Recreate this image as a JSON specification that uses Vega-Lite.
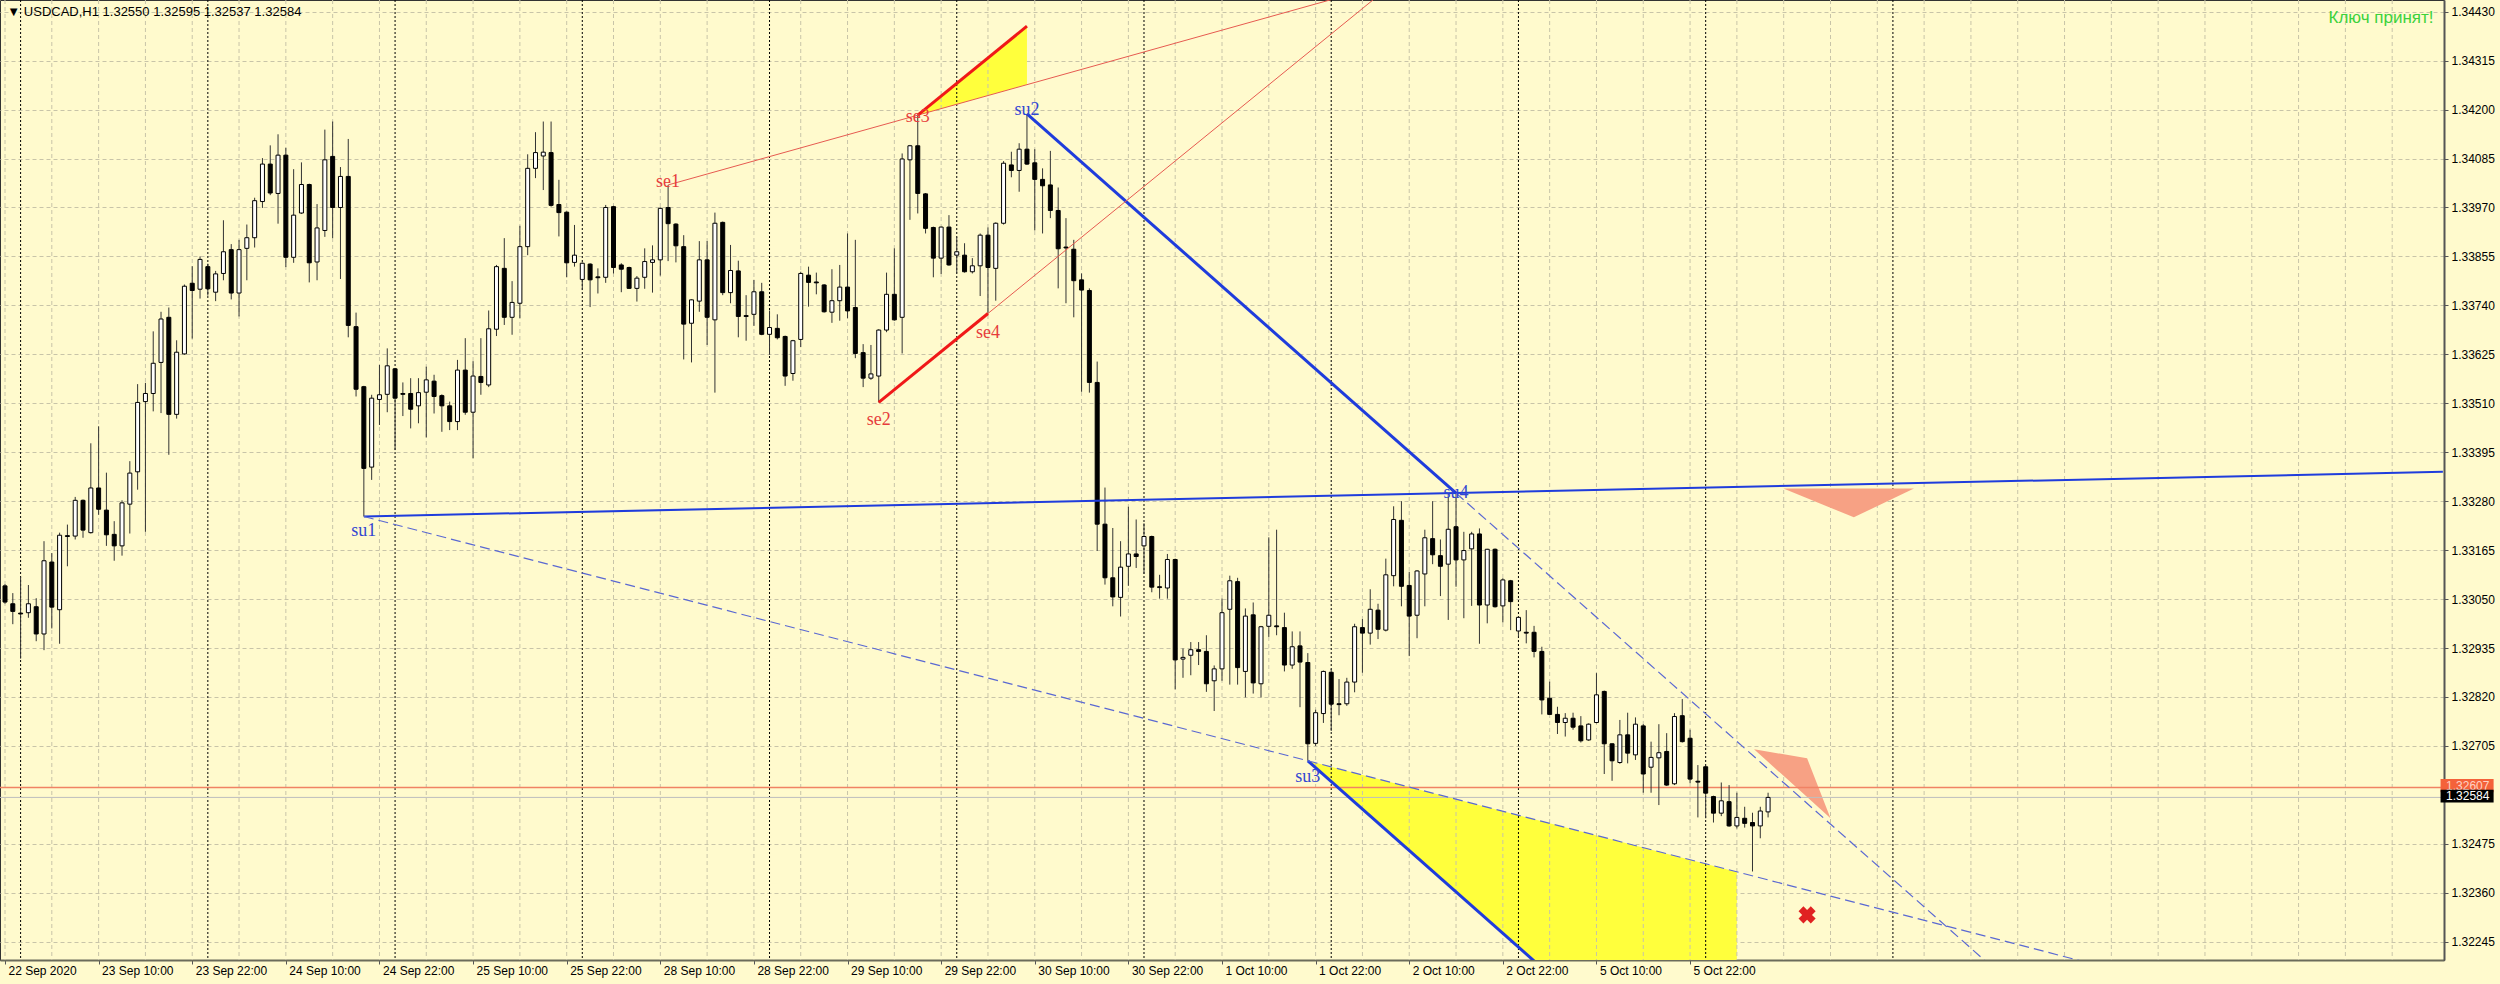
{
  "$schema": "https://vega.github.io/schema/vega-lite/v6.json",
  "width": 2444,
  "height": 960,
  "autosize": {"type": "none"},
  "padding": {"left": 0, "top": 0, "right": 56, "bottom": 24},
  "background": "#FFFACD",
  "config": {
    "view": {"stroke": "#333333", "strokeWidth": 1, "fill": "#FFFACD"},
    "axis": {"labelFont": "Liberation Sans", "labelFontSize": 12, "labelColor": "#000000", "titleFont": "Liberation Sans"}
  },
  "datasets": {
    "bars": [
      {"i":0,"o":1.33081,"h":1.33085,"l":1.33039,"c":1.33043},
      {"i":1,"o":1.33039,"h":1.33064,"l":1.32991,"c":1.33021},
      {"i":2,"o":1.33017,"h":1.33102,"l":1.32910,"c":1.33015},
      {"i":3,"o":1.33018,"h":1.33083,"l":1.33006,"c":1.33039},
      {"i":4,"o":1.33032,"h":1.33052,"l":1.32951,"c":1.32968},
      {"i":5,"o":1.32968,"h":1.33186,"l":1.32930,"c":1.33140},
      {"i":6,"o":1.33137,"h":1.33158,"l":1.32981,"c":1.33031},
      {"i":7,"o":1.33025,"h":1.33206,"l":1.32945,"c":1.33200},
      {"i":8,"o":1.33199,"h":1.33225,"l":1.33127,"c":1.33197},
      {"i":9,"o":1.33198,"h":1.33290,"l":1.33190,"c":1.33282},
      {"i":10,"o":1.33282,"h":1.33284,"l":1.33194,"c":1.33212},
      {"i":11,"o":1.33206,"h":1.33416,"l":1.33204,"c":1.33311},
      {"i":12,"o":1.33311,"h":1.33456,"l":1.33248,"c":1.33261},
      {"i":13,"o":1.33259,"h":1.33347,"l":1.33175,"c":1.33201},
      {"i":14,"o":1.33202,"h":1.33233,"l":1.33140,"c":1.33175},
      {"i":15,"o":1.33175,"h":1.33282,"l":1.33152,"c":1.33276},
      {"i":16,"o":1.33273,"h":1.33374,"l":1.33204,"c":1.33346},
      {"i":17,"o":1.33349,"h":1.33555,"l":1.33307,"c":1.33512},
      {"i":18,"o":1.33514,"h":1.33558,"l":1.33208,"c":1.33533},
      {"i":19,"o":1.33533,"h":1.33679,"l":1.33491,"c":1.33604},
      {"i":20,"o":1.33606,"h":1.33725,"l":1.33487,"c":1.33708},
      {"i":21,"o":1.33712,"h":1.33735,"l":1.33389,"c":1.33484},
      {"i":22,"o":1.33484,"h":1.33658,"l":1.33474,"c":1.33630},
      {"i":23,"o":1.33626,"h":1.33789,"l":1.33624,"c":1.33785},
      {"i":24,"o":1.33792,"h":1.33832,"l":1.33662,"c":1.33775},
      {"i":25,"o":1.33778,"h":1.33855,"l":1.33756,"c":1.33848},
      {"i":26,"o":1.33831,"h":1.33838,"l":1.33763,"c":1.33779},
      {"i":27,"o":1.33771,"h":1.33821,"l":1.33750,"c":1.33814},
      {"i":28,"o":1.33815,"h":1.33940,"l":1.33799,"c":1.33866},
      {"i":29,"o":1.33871,"h":1.33884,"l":1.33754,"c":1.33769},
      {"i":30,"o":1.33769,"h":1.33894,"l":1.33714,"c":1.33871},
      {"i":31,"o":1.33874,"h":1.33930,"l":1.33799,"c":1.33899},
      {"i":32,"o":1.33899,"h":1.33993,"l":1.33876,"c":1.33986},
      {"i":33,"o":1.33984,"h":1.34086,"l":1.33969,"c":1.34072},
      {"i":34,"o":1.34072,"h":1.34116,"l":1.33999,"c":1.34004},
      {"i":35,"o":1.34003,"h":1.34142,"l":1.33932,"c":1.34093},
      {"i":36,"o":1.34093,"h":1.34110,"l":1.33830,"c":1.33853},
      {"i":37,"o":1.33853,"h":1.34060,"l":1.33840,"c":1.33952},
      {"i":38,"o":1.33957,"h":1.34076,"l":1.33955,"c":1.34024},
      {"i":39,"o":1.34024,"h":1.34026,"l":1.33794,"c":1.33840},
      {"i":40,"o":1.33842,"h":1.33978,"l":1.33799,"c":1.33922},
      {"i":41,"o":1.33916,"h":1.34153,"l":1.33901,"c":1.34082},
      {"i":42,"o":1.34090,"h":1.34172,"l":1.33898,"c":1.33970},
      {"i":43,"o":1.33970,"h":1.34065,"l":1.33802,"c":1.34043},
      {"i":44,"o":1.34043,"h":1.34131,"l":1.33665,"c":1.33693},
      {"i":45,"o":1.33690,"h":1.33723,"l":1.33526,"c":1.33543},
      {"i":46,"o":1.33549,"h":1.33551,"l":1.33244,"c":1.33357},
      {"i":47,"o":1.33360,"h":1.33530,"l":1.33330,"c":1.33522},
      {"i":48,"o":1.33519,"h":1.33600,"l":1.33459,"c":1.33530},
      {"i":49,"o":1.33531,"h":1.33639,"l":1.33489,"c":1.33598},
      {"i":50,"o":1.33591,"h":1.33593,"l":1.33400,"c":1.33522},
      {"i":51,"o":1.33533,"h":1.33559,"l":1.33480,"c":1.33531},
      {"i":52,"o":1.33533,"h":1.33569,"l":1.33451,"c":1.33496},
      {"i":53,"o":1.33504,"h":1.33569,"l":1.33463,"c":1.33535},
      {"i":54,"o":1.33536,"h":1.33596,"l":1.33430,"c":1.33565},
      {"i":55,"o":1.33562,"h":1.33577,"l":1.33486,"c":1.33526},
      {"i":56,"o":1.33528,"h":1.33531,"l":1.33443,"c":1.33504},
      {"i":57,"o":1.33504,"h":1.33514,"l":1.33447,"c":1.33467},
      {"i":58,"o":1.33467,"h":1.33612,"l":1.33447,"c":1.33588},
      {"i":59,"o":1.33588,"h":1.33663,"l":1.33483,"c":1.33489},
      {"i":60,"o":1.33489,"h":1.33609,"l":1.33381,"c":1.33574},
      {"i":61,"o":1.33573,"h":1.33663,"l":1.33530,"c":1.33559},
      {"i":62,"o":1.33553,"h":1.33728,"l":1.33548,"c":1.33685},
      {"i":63,"o":1.33684,"h":1.33835,"l":1.33668,"c":1.33831},
      {"i":64,"o":1.33827,"h":1.33898,"l":1.33694,"c":1.33712},
      {"i":65,"o":1.33712,"h":1.33797,"l":1.33671,"c":1.33747},
      {"i":66,"o":1.33745,"h":1.33927,"l":1.33710,"c":1.33878},
      {"i":67,"o":1.33878,"h":1.34095,"l":1.33858,"c":1.34062},
      {"i":68,"o":1.34062,"h":1.34147,"l":1.34039,"c":1.34099},
      {"i":69,"o":1.34091,"h":1.34172,"l":1.34011,"c":1.34100},
      {"i":70,"o":1.34099,"h":1.34172,"l":1.33972,"c":1.33975},
      {"i":71,"o":1.33977,"h":1.34035,"l":1.33902,"c":1.33958},
      {"i":72,"o":1.33959,"h":1.33961,"l":1.33806,"c":1.33840},
      {"i":73,"o":1.33841,"h":1.33929,"l":1.33831,"c":1.33858},
      {"i":74,"o":1.33801,"h":1.33841,"l":1.33776,"c":1.33839},
      {"i":75,"o":1.33837,"h":1.33839,"l":1.33736,"c":1.33800},
      {"i":76,"o":1.33807,"h":1.33827,"l":1.33768,"c":1.33805},
      {"i":77,"o":1.33806,"h":1.33976,"l":1.33793,"c":1.33970},
      {"i":78,"o":1.33972,"h":1.33974,"l":1.33815,"c":1.33829},
      {"i":79,"o":1.33835,"h":1.33839,"l":1.33771,"c":1.33825},
      {"i":80,"o":1.33829,"h":1.33831,"l":1.33779,"c":1.33780},
      {"i":81,"o":1.33780,"h":1.33809,"l":1.33749,"c":1.33804},
      {"i":82,"o":1.33806,"h":1.33874,"l":1.33779,"c":1.33843},
      {"i":83,"o":1.33841,"h":1.33881,"l":1.33770,"c":1.33847},
      {"i":84,"o":1.33847,"h":1.33970,"l":1.33810,"c":1.33968},
      {"i":85,"o":1.33970,"h":1.34023,"l":1.33844,"c":1.33932},
      {"i":86,"o":1.33931,"h":1.33933,"l":1.33841,"c":1.33880},
      {"i":87,"o":1.33878,"h":1.33905,"l":1.33613,"c":1.33696},
      {"i":88,"o":1.33698,"h":1.33754,"l":1.33606,"c":1.33753},
      {"i":89,"o":1.33750,"h":1.33891,"l":1.33725,"c":1.33847},
      {"i":90,"o":1.33847,"h":1.33891,"l":1.33647,"c":1.33712},
      {"i":91,"o":1.33706,"h":1.33958,"l":1.33535,"c":1.33933},
      {"i":92,"o":1.33935,"h":1.33937,"l":1.33764,"c":1.33770},
      {"i":93,"o":1.33770,"h":1.33882,"l":1.33745,"c":1.33822},
      {"i":94,"o":1.33821,"h":1.33845,"l":1.33665,"c":1.33714},
      {"i":95,"o":1.33716,"h":1.33764,"l":1.33657,"c":1.33714},
      {"i":96,"o":1.33719,"h":1.33800,"l":1.33692,"c":1.33772},
      {"i":97,"o":1.33772,"h":1.33793,"l":1.33670,"c":1.33672},
      {"i":98,"o":1.33672,"h":1.33728,"l":1.33624,"c":1.33688},
      {"i":99,"o":1.33686,"h":1.33719,"l":1.33660,"c":1.33664},
      {"i":100,"o":1.33667,"h":1.33669,"l":1.33551,"c":1.33574},
      {"i":101,"o":1.33580,"h":1.33659,"l":1.33563,"c":1.33657},
      {"i":102,"o":1.33660,"h":1.33819,"l":1.33642,"c":1.33815},
      {"i":103,"o":1.33811,"h":1.33831,"l":1.33737,"c":1.33794},
      {"i":104,"o":1.33795,"h":1.33817,"l":1.33766,"c":1.33793},
      {"i":105,"o":1.33788,"h":1.33790,"l":1.33723,"c":1.33725},
      {"i":106,"o":1.33724,"h":1.33825,"l":1.33699,"c":1.33751},
      {"i":107,"o":1.33751,"h":1.33835,"l":1.33704,"c":1.33783},
      {"i":108,"o":1.33783,"h":1.33909,"l":1.33710,"c":1.33727},
      {"i":109,"o":1.33735,"h":1.33894,"l":1.33616,"c":1.33627},
      {"i":110,"o":1.33629,"h":1.33649,"l":1.33548,"c":1.33569},
      {"i":111,"o":1.33569,"h":1.33647,"l":1.33565,"c":1.33579},
      {"i":112,"o":1.33574,"h":1.33684,"l":1.33512,"c":1.33682},
      {"i":113,"o":1.33682,"h":1.33817,"l":1.33677,"c":1.33766},
      {"i":114,"o":1.33766,"h":1.33874,"l":1.33704,"c":1.33706},
      {"i":115,"o":1.33712,"h":1.34097,"l":1.33627,"c":1.34084},
      {"i":116,"o":1.34082,"h":1.34117,"l":1.33941,"c":1.34115},
      {"i":117,"o":1.34115,"h":1.34187,"l":1.33956,"c":1.34003},
      {"i":118,"o":1.34002,"h":1.34004,"l":1.33909,"c":1.33921},
      {"i":119,"o":1.33923,"h":1.33925,"l":1.33806,"c":1.33851},
      {"i":120,"o":1.33851,"h":1.33925,"l":1.33814,"c":1.33924},
      {"i":121,"o":1.33924,"h":1.33952,"l":1.33833,"c":1.33835},
      {"i":122,"o":1.33858,"h":1.33901,"l":1.33815,"c":1.33866},
      {"i":123,"o":1.33858,"h":1.33886,"l":1.33817,"c":1.33819},
      {"i":124,"o":1.33819,"h":1.33851,"l":1.33815,"c":1.33833},
      {"i":125,"o":1.33833,"h":1.33909,"l":1.33762,"c":1.33905},
      {"i":126,"o":1.33905,"h":1.33923,"l":1.33721,"c":1.33829},
      {"i":127,"o":1.33827,"h":1.33935,"l":1.33751,"c":1.33933},
      {"i":128,"o":1.33933,"h":1.34079,"l":1.33930,"c":1.34074},
      {"i":129,"o":1.34070,"h":1.34101,"l":1.34041,"c":1.34057},
      {"i":130,"o":1.34057,"h":1.34121,"l":1.34007,"c":1.34107},
      {"i":131,"o":1.34107,"h":1.34190,"l":1.34070,"c":1.34072},
      {"i":132,"o":1.34075,"h":1.34107,"l":1.33916,"c":1.34036},
      {"i":133,"o":1.34036,"h":1.34062,"l":1.33909,"c":1.34021},
      {"i":134,"o":1.34023,"h":1.34103,"l":1.33945,"c":1.33963},
      {"i":135,"o":1.33963,"h":1.34017,"l":1.33780,"c":1.33873},
      {"i":136,"o":1.33877,"h":1.33945,"l":1.33745,"c":1.33875},
      {"i":137,"o":1.33872,"h":1.33894,"l":1.33712,"c":1.33798},
      {"i":138,"o":1.33800,"h":1.33815,"l":1.33537,"c":1.33776},
      {"i":139,"o":1.33775,"h":1.33780,"l":1.33535,"c":1.33559},
      {"i":140,"o":1.33559,"h":1.33608,"l":1.33163,"c":1.33226},
      {"i":141,"o":1.33226,"h":1.33312,"l":1.33084,"c":1.33100},
      {"i":142,"o":1.33100,"h":1.33217,"l":1.33033,"c":1.33055},
      {"i":143,"o":1.33054,"h":1.33186,"l":1.33009,"c":1.33125},
      {"i":144,"o":1.33127,"h":1.33267,"l":1.33081,"c":1.33156},
      {"i":145,"o":1.33156,"h":1.33237,"l":1.33123,"c":1.33150},
      {"i":146,"o":1.33175,"h":1.33228,"l":1.33109,"c":1.33197},
      {"i":147,"o":1.33197,"h":1.33199,"l":1.33066,"c":1.33078},
      {"i":148,"o":1.33079,"h":1.33107,"l":1.33051,"c":1.33077},
      {"i":149,"o":1.33076,"h":1.33156,"l":1.33051,"c":1.33143},
      {"i":150,"o":1.33143,"h":1.33145,"l":1.32838,"c":1.32907},
      {"i":151,"o":1.32909,"h":1.32934,"l":1.32865,"c":1.32913},
      {"i":152,"o":1.32918,"h":1.32949,"l":1.32871,"c":1.32931},
      {"i":153,"o":1.32931,"h":1.32949,"l":1.32895,"c":1.32927},
      {"i":154,"o":1.32927,"h":1.32965,"l":1.32832,"c":1.32851},
      {"i":155,"o":1.32858,"h":1.32894,"l":1.32787,"c":1.32886},
      {"i":156,"o":1.32886,"h":1.33051,"l":1.32858,"c":1.33018},
      {"i":157,"o":1.33026,"h":1.33105,"l":1.32849,"c":1.33093},
      {"i":158,"o":1.33091,"h":1.33100,"l":1.32849,"c":1.32889},
      {"i":159,"o":1.32880,"h":1.33028,"l":1.32819,"c":1.33010},
      {"i":160,"o":1.33013,"h":1.33042,"l":1.32828,"c":1.32853},
      {"i":161,"o":1.32851,"h":1.32987,"l":1.32819,"c":1.32985},
      {"i":162,"o":1.32986,"h":1.33195,"l":1.32961,"c":1.33012},
      {"i":163,"o":1.32987,"h":1.33213,"l":1.32965,"c":1.32985},
      {"i":164,"o":1.32983,"h":1.33018,"l":1.32880,"c":1.32895},
      {"i":165,"o":1.32895,"h":1.32974,"l":1.32886,"c":1.32938},
      {"i":166,"o":1.32940,"h":1.32974,"l":1.32796,"c":1.32902},
      {"i":167,"o":1.32901,"h":1.32923,"l":1.32670,"c":1.32710},
      {"i":168,"o":1.32711,"h":1.32790,"l":1.32705,"c":1.32783},
      {"i":169,"o":1.32781,"h":1.32882,"l":1.32759,"c":1.32880},
      {"i":170,"o":1.32878,"h":1.32886,"l":1.32740,"c":1.32803},
      {"i":171,"o":1.32804,"h":1.32862,"l":1.32777,"c":1.32802},
      {"i":172,"o":1.32804,"h":1.32865,"l":1.32799,"c":1.32855},
      {"i":173,"o":1.32855,"h":1.32992,"l":1.32831,"c":1.32985},
      {"i":174,"o":1.32983,"h":1.33003,"l":1.32877,"c":1.32970},
      {"i":175,"o":1.32970,"h":1.33073,"l":1.32943,"c":1.33026},
      {"i":176,"o":1.33024,"h":1.33039,"l":1.32956,"c":1.32979},
      {"i":177,"o":1.32977,"h":1.33145,"l":1.32974,"c":1.33107},
      {"i":178,"o":1.33105,"h":1.33268,"l":1.33080,"c":1.33237},
      {"i":179,"o":1.33235,"h":1.33280,"l":1.33033,"c":1.33080},
      {"i":180,"o":1.33082,"h":1.33114,"l":1.32916,"c":1.33010},
      {"i":181,"o":1.33012,"h":1.33118,"l":1.32958,"c":1.33116},
      {"i":182,"o":1.33109,"h":1.33213,"l":1.33033,"c":1.33194},
      {"i":183,"o":1.33192,"h":1.33280,"l":1.33132,"c":1.33154},
      {"i":184,"o":1.33152,"h":1.33190,"l":1.33057,"c":1.33127},
      {"i":185,"o":1.33132,"h":1.33294,"l":1.33001,"c":1.33214},
      {"i":186,"o":1.33220,"h":1.33299,"l":1.33079,"c":1.33142},
      {"i":187,"o":1.33142,"h":1.33208,"l":1.33005,"c":1.33164},
      {"i":188,"o":1.33168,"h":1.33208,"l":1.33034,"c":1.33203},
      {"i":189,"o":1.33203,"h":1.33216,"l":1.32945,"c":1.33036},
      {"i":190,"o":1.33036,"h":1.33168,"l":1.32993,"c":1.33167},
      {"i":191,"o":1.33167,"h":1.33169,"l":1.33030,"c":1.33032},
      {"i":192,"o":1.33034,"h":1.33099,"l":1.32995,"c":1.33095},
      {"i":193,"o":1.33093,"h":1.33095,"l":1.32977,"c":1.33044},
      {"i":194,"o":1.32975,"h":1.33009,"l":1.32962,"c":1.33007},
      {"i":195,"o":1.32972,"h":1.33024,"l":1.32946,"c":1.32970},
      {"i":196,"o":1.32972,"h":1.32987,"l":1.32913,"c":1.32927},
      {"i":197,"o":1.32927,"h":1.32938,"l":1.32779,"c":1.32813},
      {"i":198,"o":1.32817,"h":1.32856,"l":1.32778,"c":1.32779},
      {"i":199,"o":1.32779,"h":1.32797,"l":1.32733,"c":1.32760},
      {"i":200,"o":1.32760,"h":1.32782,"l":1.32727,"c":1.32770},
      {"i":201,"o":1.32770,"h":1.32783,"l":1.32743,"c":1.32749},
      {"i":202,"o":1.32752,"h":1.32775,"l":1.32713,"c":1.32717},
      {"i":203,"o":1.32719,"h":1.32758,"l":1.32717,"c":1.32756},
      {"i":204,"o":1.32760,"h":1.32876,"l":1.32758,"c":1.32825},
      {"i":205,"o":1.32833,"h":1.32835,"l":1.32639,"c":1.32710},
      {"i":206,"o":1.32710,"h":1.32711,"l":1.32623,"c":1.32670},
      {"i":207,"o":1.32666,"h":1.32766,"l":1.32663,"c":1.32731},
      {"i":208,"o":1.32731,"h":1.32783,"l":1.32664,"c":1.32688},
      {"i":209,"o":1.32684,"h":1.32772,"l":1.32672,"c":1.32756},
      {"i":210,"o":1.32752,"h":1.32756,"l":1.32595,"c":1.32639},
      {"i":211,"o":1.32655,"h":1.32715,"l":1.32595,"c":1.32678},
      {"i":212,"o":1.32677,"h":1.32756,"l":1.32566,"c":1.32689},
      {"i":213,"o":1.32692,"h":1.32735,"l":1.32611,"c":1.32613},
      {"i":214,"o":1.32616,"h":1.32782,"l":1.32613,"c":1.32774},
      {"i":215,"o":1.32776,"h":1.32815,"l":1.32713,"c":1.32715},
      {"i":216,"o":1.32723,"h":1.32743,"l":1.32617,"c":1.32627},
      {"i":217,"o":1.32622,"h":1.32660,"l":1.32537,"c":1.32620},
      {"i":218,"o":1.32656,"h":1.32658,"l":1.32535,"c":1.32594},
      {"i":219,"o":1.32586,"h":1.32588,"l":1.32525,"c":1.32547},
      {"i":220,"o":1.32547,"h":1.32619,"l":1.32540,"c":1.32576},
      {"i":221,"o":1.32574,"h":1.32613,"l":1.32515,"c":1.32517},
      {"i":222,"o":1.32517,"h":1.32595,"l":1.32511,"c":1.32537},
      {"i":223,"o":1.32535,"h":1.32562,"l":1.32513,"c":1.32523},
      {"i":224,"o":1.32525,"h":1.32548,"l":1.32410,"c":1.32517},
      {"i":225,"o":1.32517,"h":1.32562,"l":1.32488,"c":1.32552},
      {"i":226,"o":1.32550,"h":1.32595,"l":1.32537,"c":1.32584}
    ],
    "gridLight": [
      {"i":0},{"i":6},{"i":12},{"i":18},{"i":24},{"i":30},{"i":36},{"i":42},{"i":48},{"i":54},
      {"i":60},{"i":66},{"i":72},{"i":78},{"i":84},{"i":90},{"i":96},{"i":102},{"i":108},{"i":114},
      {"i":120},{"i":126},{"i":132},{"i":138},{"i":144},{"i":150},{"i":156},{"i":162},{"i":168},{"i":174},
      {"i":180},{"i":186},{"i":192},{"i":198},{"i":204},{"i":210},{"i":216},{"i":222},{"i":228},{"i":234},
      {"i":240},{"i":246},{"i":252},{"i":258},{"i":264},{"i":270},{"i":276},{"i":282},{"i":288},{"i":294},
      {"i":300},{"i":306}
    ],
    "gridDark": [
      {"i":2},{"i":26},{"i":50},{"i":74},{"i":98},{"i":122},{"i":146},{"i":170},{"i":194},{"i":218},{"i":242}
    ],
    "yellowTop": [
      {"i":117,"lo":1.34187,"hi":1.34187},
      {"i":131,"lo":1.34259,"hi":1.34396}
    ],
    "yellowBottom": [
      {"i":167,"lo":1.32670,"hi":1.32670},
      {"i":195.9,"lo":1.32202,"hi":1.32533},
      {"i":222,"lo":1.32202,"hi":1.32409}
    ],
    "salmonTop": [
      {"i":227.96,"lo":1.33310,"hi":1.33310},
      {"i":236.99,"lo":1.33242,"hi":1.33310},
      {"i":244.7,"lo":1.33310,"hi":1.33310}
    ],
    "salmonLow": [
      {"i":224.2,"lo":1.32697,"hi":1.32697},
      {"i":231.0,"lo":1.32585,"hi":1.32676},
      {"i":234.0,"lo":1.32535,"hi":1.32535}
    ],
    "redThin": [
      {"id":"se1-se3","i":85,"p":1.34023},
      {"id":"se1-se3","i":175,"p":1.34484},
      {"id":"se2-se4","i":112,"p":1.33512},
      {"id":"se2-se4","i":180,"p":1.34527}
    ],
    "redThick": [
      {"id":"a","i":112,"p":1.33512},
      {"id":"a","i":126,"p":1.33721},
      {"id":"b","i":117,"p":1.34187},
      {"id":"b","i":131,"p":1.34396}
    ],
    "blueThick": [
      {"id":"su2-su4","i":131,"p":1.34190},
      {"id":"su2-su4","i":186,"p":1.33299},
      {"id":"su3","i":167,"p":1.32670},
      {"id":"su3","i":200,"p":1.32135}
    ],
    "blueMid": [
      {"i":46,"p":1.33244},
      {"i":312.5,"p":1.33349}
    ],
    "blueDash": [
      {"id":"su4-ext","i":186,"p":1.33299},
      {"id":"su4-ext","i":260,"p":1.32100},
      {"id":"su1-su3","i":46,"p":1.33244},
      {"id":"su1-su3","i":280,"p":1.32134}
    ],
    "redLabels": [
      {"t":"se1","i":85,"p":1.34030},
      {"t":"se2","i":112,"p":1.33470},
      {"t":"se3","i":117,"p":1.34182},
      {"t":"se4","i":126,"p":1.33676}
    ],
    "blueLabels": [
      {"t":"su1","i":46,"p":1.33209},
      {"t":"su2","i":131,"p":1.34200},
      {"t":"su3","i":167,"p":1.32632},
      {"t":"su4","i":186,"p":1.33299}
    ],
    "cross": [{"i":231.0,"p":1.32308}],
    "bidLine": [{"p":1.32584}],
    "alertLine": [{"p":1.32607}],
    "alertBox": [{"i":312.2,"i2":319.0,"p":1.32627,"p2":1.32596,"t":"1.32607","pt":1.32611,"it":312.9}],
    "bidBox": [{"i":312.2,"i2":319.0,"p":1.32602,"p2":1.32572,"t":"1.32584","pt":1.32587,"it":312.9}],
    "header": [{"t":"▼ USDCAD,H1  1.32550 1.32595 1.32537 1.32584","i":0.3,"p":1.34429}],
    "status": [{"t":"Ключ принят!","i":311.3,"p":1.34415}]
  },
  "layer": [
    {
      "data": {"name": "yellowTop"},
      "mark": {"type": "area", "color": "#FFFF3C", "opacity": 1, "clip": true},
      "encoding": {
        "x": {"field": "i", "type": "quantitative", "scale": {"domain": [0, 312], "zero": false, "nice": false},
          "axis": {"values": [0,12,24,36,48,60,72,84,96,108,120,132,144,156,168,180,192,204,216],
            "labelExpr": "['22 Sep 2020','23 Sep 10:00','23 Sep 22:00','24 Sep 10:00','24 Sep 22:00','25 Sep 10:00','25 Sep 22:00','28 Sep 10:00','28 Sep 22:00','29 Sep 10:00','29 Sep 22:00','30 Sep 10:00','30 Sep 22:00','1 Oct 10:00','1 Oct 22:00','2 Oct 10:00','2 Oct 22:00','5 Oct 10:00','5 Oct 22:00'][round(datum.value/12)]",
            "labelAlign": "left", "labelOffset": 3, "labelPadding": 1, "tickSize": 4, "tickColor": "#555555",
            "domainColor": "#6B6B5B", "domainWidth": 2, "grid": false, "title": null, "labelOverlap": false, "labelBound": false, "labelFlush": false}},
        "y": {"field": "lo", "type": "quantitative", "scale": {"domain": [1.32202, 1.344575], "zero": false, "nice": false},
          "axis": {"orient": "right", "values": [1.32245,1.32360,1.32475,1.32705,1.32820,1.32935,1.33050,1.33165,1.33280,1.33395,1.33510,1.33625,1.33740,1.33855,1.33970,1.34085,1.34200,1.34315,1.34430],
            "format": ".5f", "tickSize": 4, "tickColor": "#555555", "labelPadding": 3, "domainColor": "#555555", "domainWidth": 2,
            "grid": true, "gridColor": "#C8C4A8", "gridDash": [4, 3], "gridWidth": 1, "title": null, "labelOverlap": false, "labelBound": false, "labelFlush": false}},
        "y2": {"field": "hi"}
      }
    },
    {
      "data": {"name": "yellowBottom"},
      "mark": {"type": "area", "color": "#FFFF3C", "opacity": 1, "clip": true},
      "encoding": {
        "x": {"field": "i", "type": "quantitative"},
        "y": {"field": "lo", "type": "quantitative"},
        "y2": {"field": "hi"}
      }
    },
    {
      "data": {"name": "gridLight"},
      "mark": {"type": "rule", "color": "#C8C4A8", "strokeDash": [4, 3], "strokeWidth": 1},
      "encoding": {"x": {"field": "i", "type": "quantitative"}}
    },
    {
      "data": {"name": "gridDark"},
      "mark": {"type": "rule", "color": "#000000", "strokeDash": [2, 2], "strokeWidth": 1},
      "encoding": {"x": {"field": "i", "type": "quantitative"}}
    },
    {
      "data": {"name": "salmonTop"},
      "mark": {"type": "area", "color": "#F7A184", "opacity": 1, "clip": true},
      "encoding": {
        "x": {"field": "i", "type": "quantitative"},
        "y": {"field": "lo", "type": "quantitative"},
        "y2": {"field": "hi"}
      }
    },
    {
      "data": {"name": "salmonLow"},
      "mark": {"type": "area", "color": "#F7A184", "opacity": 1, "clip": true},
      "encoding": {
        "x": {"field": "i", "type": "quantitative"},
        "y": {"field": "lo", "type": "quantitative"},
        "y2": {"field": "hi"}
      }
    },
    {
      "data": {"name": "bidLine"},
      "mark": {"type": "rule", "color": "#BDBDBD", "strokeWidth": 1},
      "encoding": {"y": {"field": "p", "type": "quantitative"}}
    },
    {
      "data": {"name": "alertLine"},
      "mark": {"type": "rule", "color": "#F08264", "strokeWidth": 1.5},
      "encoding": {"y": {"field": "p", "type": "quantitative"}}
    },
    {
      "data": {"name": "bars"},
      "mark": {"type": "rule", "color": "#333333", "strokeWidth": 1},
      "encoding": {
        "x": {"field": "i", "type": "quantitative"},
        "y": {"field": "l", "type": "quantitative"},
        "y2": {"field": "h"}
      }
    },
    {
      "data": {"name": "bars"},
      "mark": {"type": "bar", "width": 4, "stroke": "#000000", "strokeWidth": 1},
      "encoding": {
        "x": {"field": "i", "type": "quantitative"},
        "y": {"field": "o", "type": "quantitative"},
        "y2": {"field": "c"},
        "fill": {"condition": {"test": "datum.c >= datum.o", "value": "#FFFFFF"}, "value": "#000000"}
      }
    },
    {
      "data": {"name": "blueMid"},
      "mark": {"type": "line", "color": "#1F3CDC", "strokeWidth": 2, "clip": true},
      "encoding": {
        "x": {"field": "i", "type": "quantitative"},
        "y": {"field": "p", "type": "quantitative"}
      }
    },
    {
      "data": {"name": "blueThick"},
      "mark": {"type": "line", "color": "#1F3CDC", "strokeWidth": 3, "clip": true},
      "encoding": {
        "x": {"field": "i", "type": "quantitative"},
        "y": {"field": "p", "type": "quantitative"},
        "detail": {"field": "id", "type": "nominal"}
      }
    },
    {
      "data": {"name": "blueDash"},
      "mark": {"type": "line", "color": "#5A68D2", "strokeWidth": 1.2, "strokeDash": [10, 5], "clip": true},
      "encoding": {
        "x": {"field": "i", "type": "quantitative"},
        "y": {"field": "p", "type": "quantitative"},
        "detail": {"field": "id", "type": "nominal"}
      }
    },
    {
      "data": {"name": "redThin"},
      "mark": {"type": "line", "color": "#E65A50", "strokeWidth": 1, "clip": true},
      "encoding": {
        "x": {"field": "i", "type": "quantitative"},
        "y": {"field": "p", "type": "quantitative"},
        "detail": {"field": "id", "type": "nominal"}
      }
    },
    {
      "data": {"name": "redThick"},
      "mark": {"type": "line", "color": "#F01818", "strokeWidth": 3, "clip": true},
      "encoding": {
        "x": {"field": "i", "type": "quantitative"},
        "y": {"field": "p", "type": "quantitative"},
        "detail": {"field": "id", "type": "nominal"}
      }
    },
    {
      "data": {"name": "cross"},
      "mark": {"type": "point", "shape": "cross", "angle": 45, "size": 300, "filled": true, "color": "#E02222", "opacity": 1},
      "encoding": {
        "x": {"field": "i", "type": "quantitative"},
        "y": {"field": "p", "type": "quantitative"}
      }
    },
    {
      "data": {"name": "redLabels"},
      "mark": {"type": "text", "font": "Liberation Serif", "fontSize": 18, "color": "#E63C3C", "align": "center", "baseline": "middle"},
      "encoding": {
        "x": {"field": "i", "type": "quantitative"},
        "y": {"field": "p", "type": "quantitative"},
        "text": {"field": "t"}
      }
    },
    {
      "data": {"name": "blueLabels"},
      "mark": {"type": "text", "font": "Liberation Serif", "fontSize": 18, "color": "#3246D2", "align": "center", "baseline": "middle"},
      "encoding": {
        "x": {"field": "i", "type": "quantitative"},
        "y": {"field": "p", "type": "quantitative"},
        "text": {"field": "t"}
      }
    },
    {
      "data": {"name": "alertBox"},
      "mark": {"type": "rect", "color": "#F4623A", "clip": false},
      "encoding": {
        "x": {"field": "i", "type": "quantitative"},
        "x2": {"field": "i2"},
        "y": {"field": "p", "type": "quantitative"},
        "y2": {"field": "p2"}
      }
    },
    {
      "data": {"name": "alertBox"},
      "mark": {"type": "text", "font": "Liberation Sans", "fontSize": 12, "color": "#FFD2C4", "align": "left", "baseline": "middle", "clip": false},
      "encoding": {
        "x": {"field": "it", "type": "quantitative"},
        "y": {"field": "pt", "type": "quantitative"},
        "text": {"field": "t"}
      }
    },
    {
      "data": {"name": "bidBox"},
      "mark": {"type": "rect", "color": "#000000", "clip": false},
      "encoding": {
        "x": {"field": "i", "type": "quantitative"},
        "x2": {"field": "i2"},
        "y": {"field": "p", "type": "quantitative"},
        "y2": {"field": "p2"}
      }
    },
    {
      "data": {"name": "bidBox"},
      "mark": {"type": "text", "font": "Liberation Sans", "fontSize": 12, "color": "#FFFFFF", "align": "left", "baseline": "middle", "clip": false},
      "encoding": {
        "x": {"field": "it", "type": "quantitative"},
        "y": {"field": "pt", "type": "quantitative"},
        "text": {"field": "t"}
      }
    },
    {
      "data": {"name": "header"},
      "mark": {"type": "text", "font": "Liberation Sans", "fontSize": 13, "color": "#000000", "align": "left", "baseline": "middle"},
      "encoding": {
        "x": {"field": "i", "type": "quantitative"},
        "y": {"field": "p", "type": "quantitative"},
        "text": {"field": "t"}
      }
    },
    {
      "data": {"name": "status"},
      "mark": {"type": "text", "font": "Liberation Sans", "fontSize": 17, "color": "#3CD23C", "align": "right", "baseline": "middle"},
      "encoding": {
        "x": {"field": "i", "type": "quantitative"},
        "y": {"field": "p", "type": "quantitative"},
        "text": {"field": "t"}
      }
    }
  ]
}
